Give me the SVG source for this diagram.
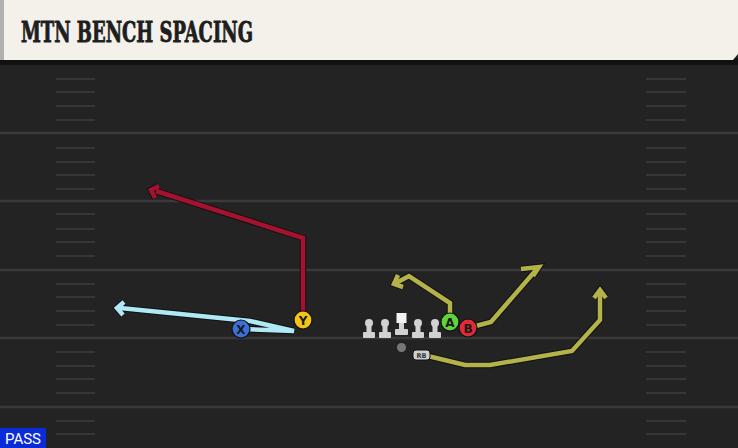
<svg xmlns="http://www.w3.org/2000/svg" width="738" height="448" viewBox="0 0 738 448">
<style>
.fl{stroke:#3a3a3a;stroke-width:2.5;fill:none}
.hs{stroke:#363636;stroke-width:2;fill:none}
.out{fill:none;stroke:#111;stroke-width:6.5;stroke-linejoin:miter;stroke-linecap:butt}
.rt{fill:none;stroke-width:4.5;stroke-linejoin:miter;stroke-linecap:butt}
.lbl{font-family:"DejaVu Sans","Liberation Sans",sans-serif;font-weight:bold;font-size:12px;fill:#1a1a1a;text-anchor:middle}
.pl{fill:#d2d2d2}
</style>
<rect x="0" y="0" width="738" height="448" fill="#232323"/>
<g id="field">
<g class="fl">
<line x1="0" y1="133" x2="738" y2="133"/>
<line x1="0" y1="201" x2="738" y2="201"/>
<line x1="0" y1="270" x2="738" y2="270"/>
<line x1="0" y1="338" x2="738" y2="338"/>
<line x1="0" y1="407" x2="738" y2="407"/>
</g>
<g class="hs">
<path d="M56 79H95M56 92H95M56 106H95M56 120H95M56 148H95M56 162H95M56 175H95M56 189H95M56 214H95M56 229H95M56 242H95M56 256H95M56 284H95M56 297H95M56 311H95M56 325H95M56 352H95M56 366H95M56 379H95M56 393H95M56 421H95M56 434H95"/>
<path d="M646 79H686M646 92H686M646 106H686M646 120H686M646 148H686M646 162H686M646 175H686M646 189H686M646 214H686M646 229H686M646 242H686M646 256H686M646 284H686M646 297H686M646 311H686M646 325H686M646 352H686M646 366H686M646 379H686M646 393H686M646 421H686M646 434H686"/>
</g>
</g>
<g id="header">
<rect x="0" y="58" width="738" height="7" fill="#111"/>
<path d="M3 0H738V54L733 60H3Z" fill="#f4f1ea"/>
<rect x="0" y="0" width="4" height="60" fill="#b0b0b0"/>
<text x="21" y="42" font-family="DejaVu Serif" font-weight="bold" font-size="28" fill="#1e1e1e" stroke="#1e1e1e" stroke-width="0.9" textLength="232" lengthAdjust="spacingAndGlyphs">MTN BENCH SPACING</text>
</g>
<g id="connectors">
<path class="out" d="M303 320V238L156 191"/>
<path class="out" d="M159 186L151 190L155 198"/>
<path class="rt" stroke="#a5122f" d="M303 320V238L156 191"/>
<path class="rt" stroke="#a5122f" d="M159 186L151 190L155 198"/>
<path class="out" d="M241 329L294 331L250 321L120 308"/>
<path class="out" d="M124 302L117 308L123 315"/>
<path class="rt" stroke="#aee9f5" d="M241 329L294 331L250 321L120 308"/>
<path class="rt" stroke="#aee9f5" d="M124 302L117 308L123 315"/>
<path class="out" d="M450 314V303L409 276L396 283"/>
<path class="out" d="M398 275L394 284L403 287"/>
<path class="rt" stroke="#b4b34a" d="M450 314V303L409 276L396 283"/>
<path class="rt" stroke="#b4b34a" d="M398 275L394 284L403 287"/>
<path class="out" d="M468 328L491 322L536 270"/>
<path class="out" d="M521 269L539 267L533 276"/>
<path class="rt" stroke="#b4b34a" d="M468 328L491 322L536 270"/>
<path class="rt" stroke="#b4b34a" d="M521 269L539 267L533 276"/>
<path class="out" d="M428 356L465 365L490 365L572 351L600 320V292"/>
<path class="out" d="M594 298L600 290L606 298"/>
<path class="rt" stroke="#b4b34a" d="M428 356L465 365L490 365L572 351L600 320V292"/>
<path class="rt" stroke="#b4b34a" d="M594 298L600 290L606 298"/>
</g>
<g id="line">
<g id="lt"><circle class="pl" cx="369" cy="323" r="4"/><rect class="pl" x="366.5" y="323" width="5" height="11"/><rect class="pl" x="363" y="332" width="12" height="6" rx="1"/></g>
<g id="lg"><circle class="pl" cx="385" cy="323" r="4"/><rect class="pl" x="382.5" y="323" width="5" height="11"/><rect class="pl" x="379" y="332" width="12" height="6" rx="1"/></g>
<g id="c"><rect x="396.5" y="313" width="10" height="10" fill="#f2f2f2"/><rect class="pl" x="399" y="323" width="5" height="8"/><rect class="pl" x="395" y="329" width="13" height="6" rx="1"/></g>
<g id="rg"><circle class="pl" cx="418" cy="323" r="4"/><rect class="pl" x="415.5" y="323" width="5" height="11"/><rect class="pl" x="412" y="332" width="12" height="6" rx="1"/></g>
<g id="rt"><circle class="pl" cx="435" cy="323" r="4"/><rect class="pl" x="432.5" y="323" width="5" height="11"/><rect class="pl" x="429" y="332" width="12" height="6" rx="1"/></g>
</g>
<g id="qb"><circle cx="401.5" cy="347.5" r="4.5" fill="#777"/></g>
<g id="rb"><rect x="413" y="350" width="17" height="10" rx="3" fill="#cfcfcf" stroke="#111" stroke-width="1"/><text x="421.5" y="358" font-family="DejaVu Sans" font-weight="bold" font-size="6.5" fill="#333" text-anchor="middle">RB</text></g>
<g id="x"><circle cx="241" cy="329" r="9" fill="#3b70d6" stroke="#111" stroke-width="1.2"/><text class="lbl" x="241" y="333.5">X</text></g>
<g id="y"><circle cx="303" cy="320" r="9" fill="#f4c414" stroke="#111" stroke-width="1.2"/><text class="lbl" x="303" y="324.5">Y</text></g>
<g id="a"><circle cx="450" cy="322" r="9" fill="#62d23a" stroke="#111" stroke-width="1.2"/><text class="lbl" x="450" y="326.5">A</text></g>
<g id="b"><circle cx="468" cy="328" r="9" fill="#e02a36" stroke="#111" stroke-width="1.2"/><text class="lbl" x="468" y="332.5">B</text></g>
<g id="pass"><rect x="0" y="428" width="46" height="20" fill="#0a2bd8"/><text x="23" y="444" font-family="Roboto,'Liberation Sans',sans-serif" font-size="15" fill="#fff" text-anchor="middle">PASS</text></g>
</svg>
